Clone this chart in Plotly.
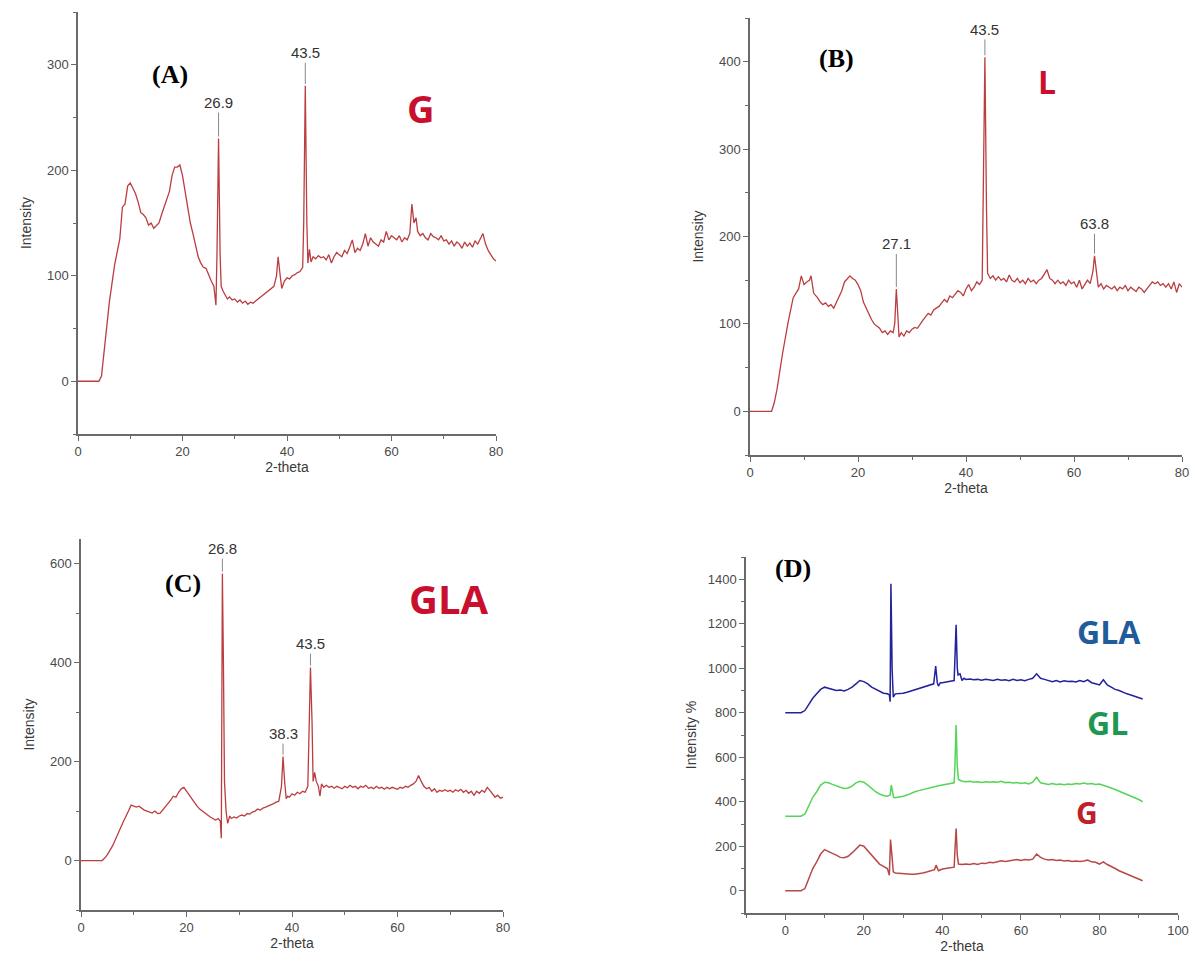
import plotly.graph_objects as go

W, H = 1195, 967

# ---------------- data ----------------
# Panel A : G
A_G = [(0,0),(4,0),(4.5,5),(5,30),(6,75),(7,110),(8,135),(8.5,165),(9,168),(9.5,185),(10,188),(10.5,183),
       (11,178),(11.5,170),(12,160),(12.5,158),(13,155),(13.5,148),(14,150),(14.5,145),(15,148),(15.5,150),
       (16,158),(16.5,165),(17,172),(17.5,180),(18,195),(18.5,203),(19,203),(19.5,205),(20,195),(20.5,180),
       (21,168),(21.5,150),(22,140),(22.5,128),(23,118),(23.5,112),(24,108),(24.5,107),(25,100),(25.5,95),
       (26,90),(26.4,72),(26.6,120),(26.9,230),(27.2,120),(27.4,90),(27.8,85),(28.2,82),(28.6,78),(29,80),
       (29.5,77),(30,78),(30.5,75),(31,77),(31.5,74),(32,76),(32.5,73),(33,75),(33.5,74),(34,76),(34.5,78),
       (35,80),(35.5,82),(36,84),(36.5,86),(37,88),(37.5,90),(38,100),(38.3,118),(38.7,100),(39,88),(39.5,95),
       (40,98),(40.5,97),(41,100),(41.5,101),(42,103),(42.5,104),(43,108),(43.2,150),(43.5,280),(43.8,150),
       (44,112),(44.3,125),(44.6,113),(45,118),(45.5,116),(46,119),(46.5,117),(47,118),(47.5,115),(48,120),
       (48.5,112),(49,118),(49.5,122),(50,120),(50.5,118),(51,124),(51.5,121),(52,127),(52.5,134),(53,122),
       (53.5,126),(54,124),(54.5,130),(55,140),(55.5,128),(56,136),(56.5,132),(57,130),(57.5,128),(58,134),
       (58.5,132),(59,142),(59.5,134),(60,138),(60.5,136),(61,134),(61.5,138),(62,132),(62.5,136),(63,134),
       (63.5,140),(63.9,168),(64.3,150),(64.7,155),(65,142),(65.5,138),(66,140),(66.5,136),(67,134),(67.5,140),
       (68,137),(68.5,136),(69,134),(69.5,138),(70,133),(70.5,134),(71,130),(71.5,133),(72,128),(72.5,132),
       (73,130),(73.5,126),(74,132),(74.5,128),(75,131),(75.5,127),(76,133),(76.5,130),(77,135),(77.5,140),
       (78,130),(78.5,124),(79,120),(79.5,116),(80,114)]

# Panel B : L
B_L = [(0,0),(4,0),(4.5,10),(5,25),(6,65),(7,100),(8,130),(9,140),(9.5,155),(10,145),(10.5,148),(11,150),
       (11.3,155),(11.8,135),(12.5,130),(13,125),(13.5,122),(14,124),(14.5,120),(15,122),(15.5,118),(16,125),
       (16.5,130),(17,138),(17.5,148),(18,152),(18.5,155),(19,152),(19.5,150),(20,145),(20.5,138),(21,125),
       (21.5,118),(22,110),(22.5,105),(23,100),(23.5,97),(24,95),(24.5,90),(25,92),(25.5,88),(26,92),(26.5,90),
       (26.8,100),(27.1,140),(27.4,100),(27.6,85),(28,90),(28.5,86),(29,92),(29.5,90),(30,94),(30.5,96),(31,95),
       (31.5,100),(32,104),(32.5,108),(33,112),(33.5,110),(34,116),(34.5,118),(35,120),(35.5,124),(36,128),
       (36.5,125),(37,132),(37.5,130),(38,134),(38.5,138),(39,136),(39.5,132),(40,140),(40.5,145),(41,138),
       (41.5,142),(42,148),(42.5,145),(43,150),(43.2,230),(43.5,405),(43.8,230),(44,158),(44.5,152),(45,155),
       (45.5,150),(46,154),(46.5,150),(47,152),(47.5,148),(48,156),(48.5,150),(49,148),(49.5,152),(50,147),
       (50.5,150),(51,146),(51.5,152),(52,148),(52.5,150),(53,146),(53.5,150),(54,152),(54.5,157),(55,162),
       (55.5,152),(56,150),(56.5,146),(57,150),(57.5,146),(58,148),(58.5,144),(59,150),(59.5,146),(60,148),
       (60.5,142),(61,150),(61.5,140),(62,145),(62.5,150),(63,146),(63.5,160),(63.8,178),(64.2,155),(64.5,142),
       (65,146),(65.5,140),(66,144),(66.5,142),(67,140),(67.5,143),(68,138),(68.5,142),(69,140),(69.5,144),
       (70,138),(70.5,142),(71,140),(71.5,137),(72,142),(72.5,140),(73,136),(73.5,140),(74,145),(74.5,148),
       (75,146),(75.5,148),(76,144),(76.5,146),(77,142),(77.5,146),(78,140),(78.5,148),(79,136),(79.5,146),
       (80,142)]

# Panel C : GLA
C_GLA = [(0,0),(4,0),(4.5,5),(5,12),(6,30),(7,55),(8,78),(9,100),(9.5,112),(10,110),(10.5,108),(11,110),
         (11.5,105),(12,102),(12.5,100),(13,98),(13.5,96),(14,100),(14.5,95),(15,96),(15.5,102),(16,108),
         (16.5,115),(17,122),(17.5,130),(18,128),(18.5,138),(19,145),(19.5,148),(20,140),(20.5,132),(21,125),
         (21.5,118),(22,110),(22.5,104),(23,100),(23.5,95),(24,92),(24.5,88),(25,85),(25.5,82),(26,85),
         (26.4,80),(26.6,45),(26.8,580),(27.0,400),(27.2,160),(27.5,100),(27.8,75),(28.2,90),(28.5,85),(29,88),
         (29.5,86),(30,90),(30.5,92),(31,90),(31.5,95),(32,94),(32.5,98),(33,100),(33.5,104),(34,102),
         (34.5,106),(35,108),(35.5,110),(36,112),(36.5,115),(37,118),(37.5,120),(38.0,150),(38.3,210),
         (38.6,160),(38.9,125),(39.2,130),(39.5,128),(40,135),(40.5,132),(41,138),(41.5,135),(42,140),
         (42.5,138),(43,150),(43.2,280),(43.5,390),(43.8,280),(44.0,160),(44.3,178),(44.6,160),(45,150),
         (45.3,130),(45.6,155),(46,148),(46.5,152),(47,148),(47.5,150),(48,146),(48.5,150),(49,148),(49.5,145),
         (50,150),(50.5,147),(51,152),(51.5,148),(52,150),(52.5,145),(53,150),(53.5,148),(54,152),(54.5,146),
         (55,148),(55.5,145),(56,150),(56.5,146),(57,148),(57.5,144),(58,148),(58.5,145),(59,148),(59.5,146),
         (60,144),(60.5,148),(61,146),(61.5,150),(62,148),(62.5,152),(63,155),(63.5,160),(64,172),(64.5,160),
         (65,150),(65.5,145),(66,148),(66.5,140),(67,145),(67.5,138),(68,142),(68.5,140),(69,143),(69.5,140),
         (70,142),(70.5,138),(71,143),(71.5,140),(72,144),(72.5,138),(73,142),(73.5,136),(74,140),(74.5,132),
         (75,140),(75.5,136),(76,142),(76.5,138),(77,148),(77.5,142),(78,136),(78.5,128),(79,132),(79.5,126),
         (80,128)]

# Panel D : stacked patterns
D_GLA = [(0,800),(4,800),(5,810),(6,840),(7,865),(8,885),(9,905),(10,915),(11,910),(12,905),(13,900),(14,902),
         (15,898),(16,905),(17,915),(18,930),(19,945),(20,940),(21,930),(22,915),(23,905),(24,895),(25,888),
         (26,885),(26.5,880),(26.7,850),(26.9,1380),(27.2,1000),(27.5,870),(28,885),(29,885),(30,888),(31,892),
         (32,898),(33,902),(34,908),(35,915),(36,920),(37,925),(37.8,930),(38.3,1010),(38.7,935),(39,920),
         (39.5,935),(40,935),(41,940),(42,942),(43,945),(43.2,1050),(43.5,1195),(43.8,1000),(44,970),(44.5,975),
         (45,945),(45.5,955),(46,950),(47,952),(48,948),(49,950),(50,946),(51,950),(52,948),(53,945),(54,950),
         (55,946),(56,948),(57,944),(58,950),(59,945),(60,948),(61,944),(62,950),(63,955),(64,975),(65,955),
         (66,950),(67,945),(68,940),(69,945),(70,938),(71,944),(72,940),(73,942),(74,938),(75,945),(76,940),
         (77,948),(78,935),(79,930),(80,925),(81,948),(82,925),(83,915),(84,905),(85,900),(86,892),(87,885),
         (88,880),(89,875),(90,868),(91,862)]
D_GL = [(0,335),(4,335),(5,345),(6,385),(7,420),(8,445),(9,475),(10,488),(11,485),(12,478),(13,470),(14,465),
        (15,460),(16,462),(17,470),(18,485),(19,492),(20,488),(21,475),(22,460),(23,445),(24,435),(25,428),
        (26,425),(26.7,430),(27,475),(27.3,440),(27.6,420),(28,418),(29,420),(30,425),(31,430),(32,438),
        (33,445),(34,450),(35,455),(36,460),(37,465),(38,470),(39,472),(40,475),(41,478),(42,480),(43,485),
        (43.2,560),(43.5,745),(43.8,560),(44.1,500),(45,492),(46,490),(47,492),(48,488),(49,490),(50,487),
        (51,490),(52,488),(53,490),(54,488),(55,492),(56,486),(57,488),(58,484),(59,486),(60,482),(61,485),
        (62,480),(63,488),(64,510),(65,485),(66,480),(67,478),(68,482),(69,478),(70,480),(71,476),(72,480),
        (73,478),(74,482),(75,480),(76,484),(77,480),(78,482),(79,478),(80,480),(81,475),(82,470),(83,462),
        (84,455),(85,448),(86,440),(87,432),(88,425),(89,418),(90,410),(91,400)]
D_G = [(0,0),(4,0),(5,10),(6,60),(7,100),(8,130),(9,165),(10,185),(11,178),(12,168),(13,160),(14,150),(15,148),
       (16,155),(17,170),(18,190),(19,205),(20,200),(21,180),(22,155),(23,135),(24,120),(25,110),(26,100),
       (26.5,70),(26.8,230),(27.2,150),(27.5,85),(28,80),(29,78),(30,76),(31,75),(32,74),(33,74),(34,76),
       (35,80),(36,84),(37,88),(38,95),(38.4,115),(38.8,95),(39,90),(40,98),(41,100),(42,102),(43,106),
       (43.2,180),(43.5,280),(43.8,160),(44.1,120),(45,118),(46,120),(47,118),(48,122),(49,118),(50,124),
       (51,122),(52,128),(53,126),(54,130),(55,135),(56,132),(57,134),(58,136),(59,140),(60,136),(61,140),
       (62,138),(63,142),(64,165),(65,150),(66,142),(67,138),(68,140),(69,136),(70,138),(71,134),(72,136),
       (73,132),(74,134),(75,132),(76,134),(77,138),(78,130),(79,128),(80,120),(81,130),(82,118),(83,110),
       (84,100),(85,90),(86,82),(87,75),(88,68),(89,60),(90,52),(91,45)]

PEAKS_A = [(26.9, 230, "26.9"), (43.5, 280, "43.5")]
PEAKS_B = [(27.1, 140, "27.1"), (43.5, 405, "43.5"), (63.8, 178, "63.8")]
PEAKS_C = [(26.8, 580, "26.8"), (38.3, 210, "38.3"), (43.5, 390, "43.5")]

# ---------------- layout helpers ----------------
def px_x(a, b):
    return [a / W, b / W]

def px_y(top, bottom):
    return [1 - bottom / H, 1 - top / H]

AX = dict(showgrid=False, zeroline=False, showline=True, linecolor="#6a6a6a", linewidth=1.5,
          ticks="outside", ticklen=5, tickwidth=1.3, tickcolor="#6a6a6a", automargin=False,
          tickfont=dict(family="Liberation Sans, Arial", size=13, color="#4a4a4a"),
          minor=dict(ticks="outside", ticklen=3, tickwidth=1, tickcolor="#6a6a6a"),
          mirror=False)
TF = dict(family="Liberation Sans, Arial", size=14, color="#3a3a3a")

fig = go.Figure()

def add(data, xa, ya, color, width=1.3):
    xs = [p[0] for p in data]
    ys = [p[1] for p in data]
    fig.add_trace(go.Scatter(x=xs, y=ys, mode="lines", xaxis=xa, yaxis=ya,
                             line=dict(color=color, width=width), showlegend=False, hoverinfo="skip"))

RED = "#bb3d40"
add(A_G, "x", "y", RED)
add(B_L, "x2", "y2", RED)
add(C_GLA, "x3", "y3", RED)
add(D_GLA, "x4", "y4", "#22229a", 1.5)
add(D_GL, "x4", "y4", "#55d455", 1.5)
add(D_G, "x4", "y4", "#b84848", 1.5)

fig.update_layout(
    width=W, height=H, margin=dict(l=0, r=0, t=0, b=0, autoexpand=False),
    paper_bgcolor="white", plot_bgcolor="white",
    xaxis=dict(AX, domain=px_x(78, 496), range=[0, 80], dtick=20, minor=dict(AX["minor"], dtick=10),
               anchor="y", title=dict(text="2-theta", font=TF, standoff=2)),
    yaxis=dict(AX, domain=px_y(12, 434), range=[-50, 350], dtick=100, tick0=0,
               minor=dict(AX["minor"], dtick=50), anchor="x",
               title=dict(text="Intensity", font=TF, standoff=12)),
    xaxis2=dict(AX, domain=px_x(750, 1182), range=[0, 80], dtick=20, minor=dict(AX["minor"], dtick=10),
                anchor="y2", title=dict(text="2-theta", font=TF, standoff=2)),
    yaxis2=dict(AX, domain=px_y(18, 455), range=[-50, 450], dtick=100, tick0=0,
                minor=dict(AX["minor"], dtick=50), anchor="x2",
                title=dict(text="Intensity", font=TF, standoff=12)),
    xaxis3=dict(AX, domain=px_x(81, 503), range=[0, 80], dtick=20, minor=dict(AX["minor"], dtick=10),
                anchor="y3", title=dict(text="2-theta", font=TF, standoff=4)),
    yaxis3=dict(AX, domain=px_y(539, 910), range=[-100, 650], dtick=200, tick0=0,
                minor=dict(AX["minor"], dtick=100), anchor="x3",
                title=dict(text="Intensity", font=TF, standoff=12)),
    xaxis4=dict(AX, domain=px_x(746, 1178), range=[-10, 100], dtick=20, tick0=0,
                minor=dict(AX["minor"], dtick=10), anchor="y4",
                title=dict(text="2-theta", font=TF, standoff=2)),
    yaxis4=dict(AX, domain=px_y(557, 913), range=[-100, 1500], dtick=200, tick0=0,
                minor=dict(AX["minor"], dtick=100), anchor="x4",
                title=dict(text="Intensity %", font=TF, standoff=8)),
)

ann = []
def plabel(text, x, y, size=26):
    ann.append(dict(text=f"<b>{text}</b>", x=x / W, y=1 - y / H, xref="paper", yref="paper",
                    showarrow=False, font=dict(family="Liberation Serif, Times New Roman", size=size, color="black")))

def name(text, x, y, color, size):
    ann.append(dict(text=f"<b>{text}</b>", x=x / W, y=1 - y / H, xref="paper", yref="paper",
                    showarrow=False, font=dict(family="Open Sans, Lato", size=size, color=color)))

plabel("(A)", 150, 58)
plabel("(B)", 856, 42)
plabel("(C)", 163, 583)
plabel("(D)", 813, 568)
name("G", 421, 80, "#c8102e", 38)
name("L", 1058, 58, "#c8102e", 32)
name("GLA", 449, 598, "#c8102e", 40)
name("GLA", 1143, 631, "#1f5c99", 32)
name("GL", 1130, 746, "#1e9850", 32)
name("G", 1100, 835, "#c0202a", 30)

def peaks(lst, xr, yr, offs):
    for (x, y, t), ay in zip(lst, offs):
        ann.append(dict(text=t, x=x, y=y, xref=xr, yref=yr, showarrow=True, arrowhead=0,
                        arrowwidth=1, arrowcolor="#888888", ax=0, ay=ay, standoff=2,
                        font=dict(family="Liberation Sans, Arial", size=15, color="#333333")))

peaks(PEAKS_A, "x", "y", [-36, -33])
peaks(PEAKS_B, "x2", "y2", [-45, -28, -32])
peaks(PEAKS_C, "x3", "y3", [-25, -23, -24])

fig.update_layout(annotations=ann)
fig.write_html("out.html", config={"displayModeBar": False},
               post_script="document.body.style.margin='0';document.body.style.overflow='hidden';")
